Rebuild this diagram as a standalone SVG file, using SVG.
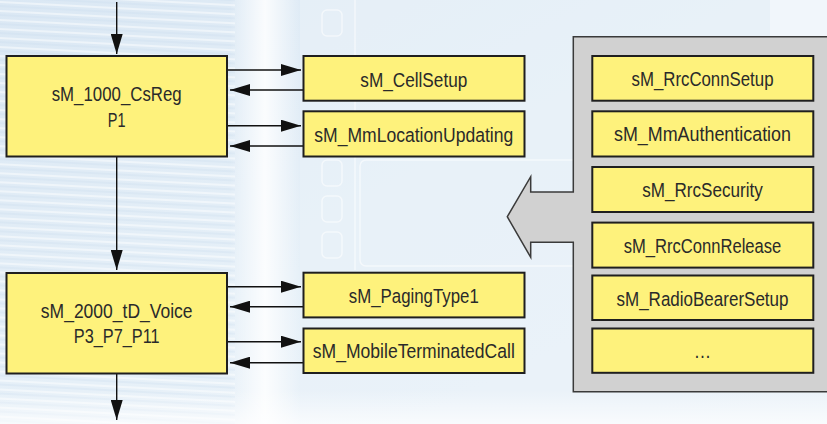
<svg xmlns="http://www.w3.org/2000/svg" width="827" height="424" viewBox="0 0 827 424">
  <defs>
    <style>
      .box { fill: #fef27c; stroke: #1f1f1f; stroke-width: 2; }
      .lbl { font-family: "Liberation Sans Narrow", "Liberation Sans", Arial, sans-serif; font-size: 20.5px; fill: #2a2a2a; text-anchor: middle; }
      .wire { stroke: #111; stroke-width: 1.4; fill: none; marker-end: url(#head); }
      .panel { fill: #d1d1d1; stroke: #3a3a3a; stroke-width: 1.5; }
      .ghost { fill: none; stroke: #ffffff; stroke-opacity: 0.55; stroke-width: 1.5; }
    </style>
    <marker id="head" viewBox="0 0 20 12" refX="20" refY="6" markerWidth="20" markerHeight="12" markerUnits="userSpaceOnUse" orient="auto">
      <path d="M0,0 L20,6 L0,12 z" fill="#111"/>
    </marker>
    <pattern id="grill" width="8" height="9" patternUnits="userSpaceOnUse" patternTransform="rotate(3)">
      <rect width="8" height="9" fill="none"/>
      <line x1="0" y1="2" x2="8" y2="2" stroke="#ffffff" stroke-opacity="0.6" stroke-width="1.6"/>
      <line x1="0" y1="6" x2="8" y2="6" stroke="#c9dced" stroke-opacity="0.45" stroke-width="1.2"/>
    </pattern>
    <linearGradient id="sky" x1="0" y1="0" x2="1" y2="1">
      <stop offset="0" stop-color="#dbe8f4"/>
      <stop offset="0.5" stop-color="#e6f0f8"/>
      <stop offset="1" stop-color="#eef4fa"/>
    </linearGradient>
    <linearGradient id="band" x1="0" y1="0" x2="1" y2="0">
      <stop offset="0" stop-color="#ffffff" stop-opacity="0"/>
      <stop offset="0.5" stop-color="#ffffff" stop-opacity="0.85"/>
      <stop offset="1" stop-color="#ffffff" stop-opacity="0"/>
    </linearGradient>
    <linearGradient id="floor" x1="0" y1="0" x2="0" y2="1">
      <stop offset="0" stop-color="#ffffff" stop-opacity="0"/>
      <stop offset="1" stop-color="#ffffff" stop-opacity="0.7"/>
    </linearGradient>
  </defs>

  <!-- soft equipment backdrop -->
  <g id="backdrop">
    <rect width="827" height="424" fill="url(#sky)"/>
    <rect x="0" y="0" width="235" height="424" fill="url(#grill)"/>
    <rect x="230" y="0" width="70" height="424" fill="url(#band)"/>
    <rect x="300" y="0" width="527" height="424" fill="#e9f2f9" opacity="0.6"/>
    <rect x="322" y="10" width="20" height="26" rx="5" class="ghost"/>
    <rect x="322" y="160" width="20" height="26" rx="5" class="ghost"/>
    <rect x="322" y="196" width="20" height="26" rx="5" class="ghost"/>
    <rect x="322" y="232" width="20" height="26" rx="5" class="ghost"/>
    <rect x="360" y="160" width="230" height="106" rx="6" class="ghost"/>
    <line x1="355" y1="0" x2="355" y2="270" class="ghost"/>
    <rect x="0" y="390" width="827" height="34" fill="url(#floor)"/>
    <rect x="770" y="0" width="57" height="36" fill="#f2f7fb" opacity="0.8"/>
  </g>

  <!-- connectors -->
  <g id="connectors">
    <line x1="116.7" y1="2" x2="116.7" y2="54" class="wire"/>
    <line x1="116.7" y1="157" x2="116.7" y2="270" class="wire"/>
    <line x1="116.7" y1="374" x2="116.7" y2="420" class="wire"/>

    <line x1="228" y1="70" x2="301" y2="70" class="wire"/>
    <line x1="303" y1="90" x2="230" y2="90" class="wire"/>
    <line x1="228" y1="125.7" x2="301" y2="125.7" class="wire"/>
    <line x1="303" y1="146" x2="230" y2="146" class="wire"/>

    <line x1="228" y1="286.7" x2="301" y2="286.7" class="wire"/>
    <line x1="303" y1="306.7" x2="230" y2="306.7" class="wire"/>
    <line x1="228" y1="341.7" x2="301" y2="341.7" class="wire"/>
    <line x1="303" y1="362.7" x2="230" y2="362.7" class="wire"/>
  </g>

  <!-- grey library panel with pointer -->
  <g id="library">
    <path class="panel" d="M573.3,36.7 L830,36.7 L830,391.7 L573.3,391.7 L573.3,242.3 L530.7,242.3 L530.7,257.3 L507.3,216.7 L530.7,176.7 L530.7,192 L573.3,192 Z"/>
  </g>

  <g id="csreg">
    <rect class="box" x="6.5" y="56" width="220.5" height="100.5"/>
    <text class="lbl" x="116.7" y="101" textLength="130" lengthAdjust="spacingAndGlyphs">sM_1000_CsReg</text>
    <text class="lbl" x="116.7" y="126.7" textLength="17.7" lengthAdjust="spacingAndGlyphs">P1</text>
  </g>

  <g id="voice">
    <rect class="box" x="6.5" y="273" width="220.5" height="100.5"/>
    <text class="lbl" x="116.7" y="318.3" textLength="151.7" lengthAdjust="spacingAndGlyphs">sM_2000_tD_Voice</text>
    <text class="lbl" x="116.7" y="342.7" textLength="85.7" lengthAdjust="spacingAndGlyphs">P3_P7_P11</text>
  </g>

  <g id="cellsetup">
    <rect class="box" x="303.5" y="56" width="221" height="44.7"/>
    <text class="lbl" x="413.8" y="86.7" textLength="107" lengthAdjust="spacingAndGlyphs">sM_CellSetup</text>
  </g>
  <g id="mmlocationupdating">
    <rect class="box" x="303.5" y="111.3" width="221" height="45.2"/>
    <text class="lbl" x="413.8" y="141.5" textLength="199" lengthAdjust="spacingAndGlyphs">sM_MmLocationUpdating</text>
  </g>
  <g id="pagingtype1">
    <rect class="box" x="303.5" y="272.7" width="221" height="44.7"/>
    <text class="lbl" x="413.8" y="303.3" textLength="130" lengthAdjust="spacingAndGlyphs">sM_PagingType1</text>
  </g>
  <g id="mobileterminatedcall">
    <rect class="box" x="303.5" y="328.5" width="221" height="44.5"/>
    <text class="lbl" x="413.8" y="358.3" textLength="202" lengthAdjust="spacingAndGlyphs">sM_MobileTerminatedCall</text>
  </g>

  <g id="rrcconnsetup">
    <rect class="box" x="592.3" y="56" width="221" height="44.7"/>
    <text class="lbl" x="702.5" y="85.7" textLength="142" lengthAdjust="spacingAndGlyphs">sM_RrcConnSetup</text>
  </g>
  <g id="mmauthentication">
    <rect class="box" x="592.3" y="111.3" width="221" height="45.2"/>
    <text class="lbl" x="702.5" y="140.7" textLength="177" lengthAdjust="spacingAndGlyphs">sM_MmAuthentication</text>
  </g>
  <g id="rrcsecurity">
    <rect class="box" x="592.3" y="167" width="221" height="45"/>
    <text class="lbl" x="702.5" y="196.7" textLength="120.7" lengthAdjust="spacingAndGlyphs">sM_RrcSecurity</text>
  </g>
  <g id="rrcconnrelease">
    <rect class="box" x="592.3" y="222.6" width="221" height="45"/>
    <text class="lbl" x="702.5" y="253.3" textLength="157.7" lengthAdjust="spacingAndGlyphs">sM_RrcConnRelease</text>
  </g>
  <g id="radiobearersetup">
    <rect class="box" x="592.3" y="275.5" width="221" height="44.5"/>
    <text class="lbl" x="702.5" y="306" textLength="172" lengthAdjust="spacingAndGlyphs">sM_RadioBearerSetup</text>
  </g>
  <g id="more">
    <rect class="box" x="592.3" y="328.5" width="221" height="44.3"/>
    <text class="lbl" x="702.5" y="358.3" textLength="17.4" lengthAdjust="spacingAndGlyphs">…</text>
  </g>
</svg>
